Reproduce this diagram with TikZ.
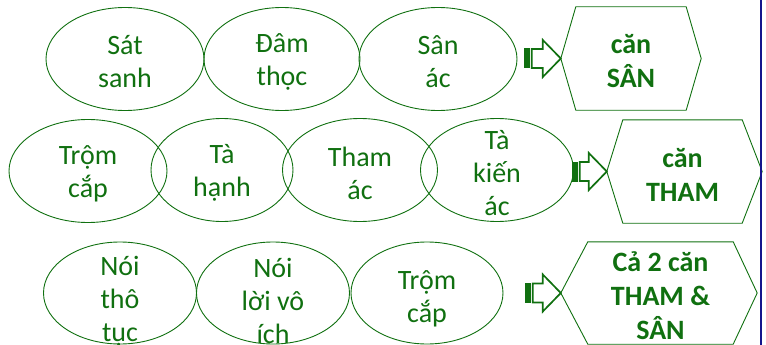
\documentclass[tikz,border=0pt]{standalone}
\usepackage{fontspec}
\setmainfont{Carlito}
\usetikzlibrary{shapes.geometric,calc}
\definecolor{gr}{RGB}{16,112,16}
\definecolor{navyline}{RGB}{20,20,140}
\newcommand\myblockarrow[2]{% #1 tip coordinate, #2 total length
  \fill[gr] ($(#1)+(-#2,-10)$) rectangle ($(#1)+(-#2+6,10)$);
  \draw[gr, line width=1.7pt, line join=miter]
    ($(#1)+(-#2+8,-9.5)$) -- ($(#1)+(-18,-9.5)$) -- ($(#1)+(-18,-18.5)$) -- (#1)
    -- ($(#1)+(-18,18.5)$) -- ($(#1)+(-18,9.5)$) -- ($(#1)+(-#2+8,9.5)$) -- cycle;}
\begin{document}
\begin{tikzpicture}[x=1pt,y=-1pt,
  ell/.style={draw=gr, line width=0.9pt, ellipse, inner sep=0pt, minimum height=103pt},
  txt/.style={text=gr, align=center, inner sep=0pt, yshift=-3pt, font=\fontsize{28}{33}\selectfont},
  btxt/.style={text=gr, align=center, inner sep=0pt, yshift=-3pt, font=\fontsize{28}{34}\selectfont\bfseries},
  core/.style={inner sep=0pt, minimum height=#1},
  hexline/.style={draw=gr, line width=0.9pt}]
\useasboundingbox (0,0) rectangle (766,345);
% Row 1
\node[ell, minimum width=158pt] (a1) at (125,59) {};
\node[ell, minimum width=156pt] (a2) at (282,59) {};
\node[ell, minimum width=158pt] (a3) at (438,59) {};
\node[txt] at (a1) {Sát\\sanh};
\node[txt] at (a2) {Đâm\\thọc};
\node[txt] at (a3) {Sân\\ác};
\node[core=103pt, minimum width=110pt] (h1) at (631,58.5) {};
\coordinate (h1l) at ($(h1.west)+(-15,0)$);
\coordinate (h1r) at ($(h1.east)+(15,0)$);
\draw[hexline] (h1l) -- (h1.north west) -- (h1.north east) -- (h1r) -- (h1.south east) -- (h1.south west) -- cycle;
\node[btxt] at (h1) {căn\\SÂN};
\myblockarrow{h1l}{37}
% Row 2
\node[ell, minimum width=158pt] (b1) at (88,171) {};
\node[ell, minimum width=142pt] (b2) at (222,170) {};
\node[ell, minimum width=155pt] (b3) at (360,170) {};
\node[ell, minimum width=153pt] (b4) at (497,170) {};
\node[txt] at (b1) {Trộm\\cắp};
\node[txt] at (b2) {Tà\\hạnh};
\node[txt] at (b3) {Tham\\ác};
\node[txt] at (b4) {Tà\\kiến\\ác};
\node[core=103pt, minimum width=119pt] (h2) at (682.5,171.5) {};
\coordinate (h2l) at ($(h2.west)+(-16,0)$);
\coordinate (h2r) at ($(h2.east)+(20,0)$);
\draw[hexline] (h2l) -- (h2.north west) -- (h2.north east) -- (h2r) -- (h2.south east) -- (h2.south west) -- cycle;
\node[btxt] at (h2) {căn\\THAM};
\myblockarrow{h2l}{35}
% Row 3
\node[ell, minimum width=153pt, minimum height=102pt] (c1) at (120,293) {};
\node[ell, minimum width=153pt, minimum height=102pt] (c2) at (273,293) {};
\node[ell, minimum width=152pt, minimum height=102pt] (c3) at (427,293) {};
\node[txt] at ($(c1)+(0,5)$) {Nói\\thô\\tục};
\node[txt] at ($(c2)+(0,5)$) {Nói\\lời vô\\ích};
\node[txt] at ($(c3)+(0,3)$) {Trộm\\cắp};
\node[core=102pt, minimum width=145pt] (h3) at (660.5,293) {};
\coordinate (h3l) at ($(h3.west)+(-27,0)$);
\coordinate (h3r) at ($(h3.east)+(24,0)$);
\draw[hexline] (h3l) -- (h3.north west) -- (h3.north east) -- (h3r) -- (h3.south east) -- (h3.south west) -- cycle;
\node[btxt] at (h3) {Cả 2 căn\\THAM \&\\SÂN};
\myblockarrow{h3l}{36}
% slide edge
\draw[navyline, line width=1.5pt] (761,0) -- (761,345);
\end{tikzpicture}
\end{document}
